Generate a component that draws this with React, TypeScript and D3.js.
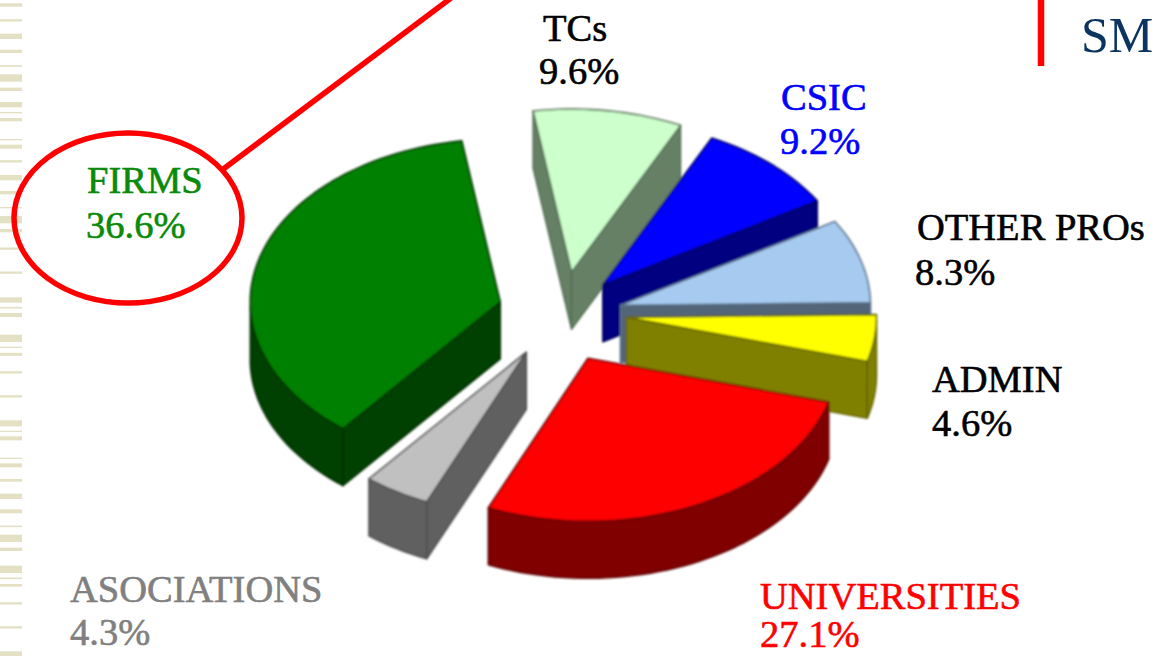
import React from "react";
import * as d3 from "d3";

const categories = ["FIRMS", "TCs", "CSIC", "OTHER PROs", "ADMIN", "UNIVERSITIES", "ASOCIATIONS"];
const shares = [36.6, 9.6, 9.2, 8.3, 4.6, 27.1, 4.3];
const topColors = ["#008000", "#ccffcc", "#0000ff", "#a6caf0", "#ffff00", "#ff0000", "#c0c0c0"];
const wallColors = ["#004000", "#668066", "#000080", "#536578", "#808000", "#800000", "#606060"];
const edgeColors = ["#003000", "#557055", "#000060", "#5a7088", "#666600", "#600000", "#505050"];
const labelColors = ["#0a8a0a", "#000000", "#0000ff", "#000000", "#000000", "#ff0000", "#808080"];
// draw order, back to front
const drawOrder = [0, 1, 2, 3, 4, 6, 5];

// layout of the exploded pie
const W = 1153, H = 656;
const CX = 565, CY = 312, RX = 250, RY = 163, DEPTH = 57, EXPLODE = 0.26, START_DEG = 129;
const nudges: [number, number][] = [[-2, 1], [-3, 2], [-6, 4], [-7, 5], [-3, 0], [-5, 8], [-5, 4]];
const labelPos: [number, number, number, number][] = [
  [87, 193, 86, 238],
  [543, 41, 539, 84],
  [781, 110, 780, 154],
  [917, 240, 915, 285],
  [932, 392, 932, 436],
  [760, 609, 760, 647],
  [70, 602, 70, 645],
];
const stripesA: [number, number][] = [[15,10],[61,7],[109,16],[154,10],[198,5],[234,22],[268,10],[314,16],[338,4],[359,10],[419,4],[440,12],[484,7],[533,16],[578,10],[623,4],[659,22],[692,10],[746,7],[818,7],[900,16],[923,5],[945,12]];
const stripesB: [number, number][] = [[37,22],[64,4],[85,9],[139,7],[211,7],[292,18],[316,4],[337,12],[397,4],[418,12],[463,8],[511,16],[556,12],[601,5],[637,22],[670,10],[730,22],[757,5],[778,8],[832,7],[904,7],[983,14]];

const rad = (d: number) => (d * Math.PI) / 180;
const pie = d3.pie<number>().sort(null).startAngle(rad(START_DEG)).endAngle(rad(START_DEG + 360));
const arcs = pie(shares);
const lineGen = d3.line<[number, number]>();

function samples(a0: number, a1: number) {
  const n = Math.max(2, Math.ceil(((a1 - a0) * 180) / Math.PI / 2));
  return d3.range(n + 1).map((i) => a0 + ((a1 - a0) * i) / n);
}

export default function App() {
  const slices = arcs.map((a, i) => {
    const mid = (a.startAngle + a.endAngle) / 2;
    const ax = CX + EXPLODE * RX * Math.cos(mid) + nudges[i][0];
    const ay = CY + EXPLODE * RY * Math.sin(mid) + nudges[i][1];
    const pt = (t: number, dz = 0): [number, number] => [ax + RX * Math.cos(t), ay + RY * Math.sin(t) + dz];
    const apex: [number, number] = [ax, ay];
    const apexLow: [number, number] = [ax, ay + DEPTH];
    const top = lineGen([apex, ...samples(a.startAngle, a.endAngle).map((t) => pt(t))]) + "Z";
    const walls: string[] = [];
    if (Math.cos(a.startAngle) < 0)
      walls.push(lineGen([apex, pt(a.startAngle), pt(a.startAngle, DEPTH), apexLow])! + "Z");
    if (Math.cos(a.endAngle) > 0)
      walls.push(lineGen([apex, pt(a.endAngle), pt(a.endAngle, DEPTH), apexLow])! + "Z");
    // outer rim: the parts of the arc that face the viewer
    const ts = samples(a.startAngle, a.endAngle).filter((t) => Math.sin(t) >= 0);
    if (ts.length > 1)
      walls.push(lineGen([...ts.map((t) => pt(t)), ...ts.slice().reverse().map((t) => pt(t, DEPTH))])! + "Z");
    return { top, walls, i };
  });
  const byIndex = (i: number) => slices[i];

  return (
    <svg width={W} height={H} viewBox={`0 0 ${W} ${H}`} style={{ position: "absolute", left: 0, top: 0, display: "block", background: "#fff" }}>
      <defs>
        <filter id="soft" x="-5%" y="-5%" width="110%" height="110%">
          <feGaussianBlur stdDeviation="0.8" />
        </filter>
      </defs>
      <g fill="#e3e0c4">
        {stripesA.map(([c, h], k) => <rect key={k} x={0} y={(c - h / 2) / 3} width={22} height={h / 3} />)}
        {stripesB.map(([c, h], k) => <rect key={k} x={0} y={326 + (c - h / 2) / 3} width={22} height={h / 3} />)}
      </g>
      <g filter="url(#soft)">
        {drawOrder.map((idx) => {
          const s = byIndex(idx);
          return (
            <g key={idx} strokeWidth={1.6} strokeLinejoin="round">
              {s.walls.map((d, k) => <path key={k} d={d} fill={wallColors[idx]} stroke={edgeColors[idx]} />)}
              <path d={s.top} fill={topColors[idx]} stroke={edgeColors[idx]} />
            </g>
          );
        })}
      </g>
      <g fontFamily="'Liberation Serif', serif" fontSize={38.5}>
        {categories.map((c, i) => (
          <g key={c} fill={labelColors[i]} stroke={labelColors[i]} strokeWidth={0.6}>
            <text x={labelPos[i][0]} y={labelPos[i][1]}>{c}</text>
            <text x={labelPos[i][2]} y={labelPos[i][3]}>{shares[i].toFixed(1)}%</text>
          </g>
        ))}
      </g>
      <g fill="none" stroke="#ff0000">
        <ellipse cx={128} cy={218} rx={114} ry={85} strokeWidth={5.5} />
        <line x1={222} y1={170} x2={451} y2={-2} strokeWidth={5.5} />
        <line x1={1041} y1={0} x2={1041} y2={66} strokeWidth={6.5} />
      </g>
      <text x={1081} y={52} fontFamily="'Liberation Serif', serif" fontSize={50} fill="#0b3560">SM</text>
    </svg>
  );
}
